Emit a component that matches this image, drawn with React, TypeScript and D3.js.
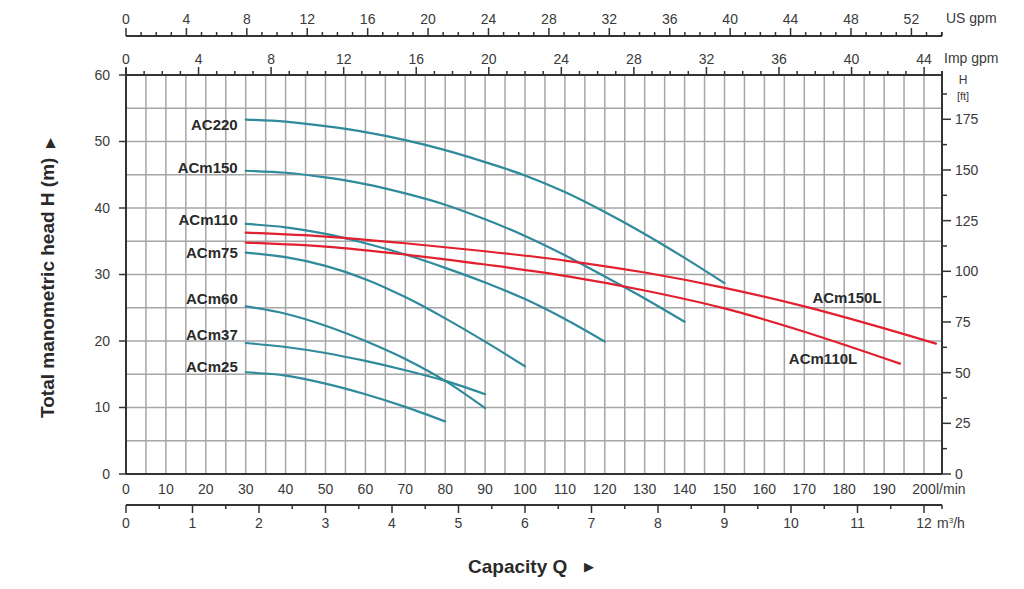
import React from "react";
import * as d3 from "d3";

// ---- data ----
const LMIN_TICKS = d3.range(0, 201, 10);
const M3H_LABELS = d3.range(0, 13, 1);
const M3H_MINOR = d3.range(0.5, 12.5, 1);
const IMP_LABELS = d3.range(0, 45, 4);
const IMP_TICKS = d3.range(0, 46, 1);
const US_LABELS = d3.range(0, 53, 4);
const US_TICKS = d3.range(0, 55, 1);
const HM_LABELS = d3.range(0, 61, 10);
const HFT_LABELS = d3.range(0, 176, 25);
const HFT_MINOR = d3.range(12.5, 190, 25);

const AC220: [number, number][] = [[30,53.3],[40,53.0],[50,52.3],[60,51.4],[70,50.2],[80,48.7],[90,46.9],[100,44.9],[110,42.4],[120,39.4],[130,36.1],[140,32.5],[150,28.7]];
const ACM150: [number, number][] = [[30,45.6],[40,45.3],[50,44.6],[60,43.6],[70,42.2],[80,40.5],[90,38.3],[100,35.8],[110,32.9],[120,29.7],[130,26.4],[140,22.9]];
const ACM110: [number, number][] = [[30,37.6],[40,37.1],[50,36.1],[60,34.7],[70,33.0],[80,31.0],[90,28.8],[100,26.3],[110,23.3],[120,19.9]];
const ACM75: [number, number][] = [[30,33.3],[40,32.6],[50,31.3],[60,29.3],[70,26.6],[80,23.4],[90,19.9],[100,16.2]];
const ACM60: [number, number][] = [[30,25.2],[40,24.1],[50,22.3],[60,20.0],[70,17.3],[80,14.0],[90,9.9]];
const ACM37: [number, number][] = [[30,19.7],[40,19.1],[50,18.2],[60,17.0],[70,15.6],[80,14.0],[90,12.0]];
const ACM25: [number, number][] = [[30,15.3],[40,14.8],[50,13.6],[60,12.0],[70,10.1],[80,7.9]];
const ACM150L: [number, number][] = [[30,36.3],[50,35.7],[70,34.7],[90,33.5],[110,32.1],[130,30.3],[150,28.0],[170,25.2],[190,21.9],[203,19.6]];
const ACM110L: [number, number][] = [[30,34.8],[50,34.2],[70,33.0],[90,31.5],[110,29.8],[130,27.6],[150,24.9],[170,21.4],[194,16.6]];

const SERIES_NAMES = ["AC220","ACm150","ACm110","ACm75","ACm60","ACm37","ACm25","ACm150L","ACm110L"];
const SERIES_DATA = [AC220, ACM150, ACM110, ACM75, ACM60, ACM37, ACM25, ACM150L, ACM110L];
const SERIES_RED = [false,false,false,false,false,false,false,true,true];
// label anchor (l/min, m) and text-anchor
const LABEL_Q = [28, 28, 28, 28, 28, 28, 28, 180.7, 174.7];
const LABEL_H = [52.5, 46.0, 38.2, 33.2, 26.3, 20.9, 16.1, 26.5, 17.4];
const LABEL_ANCHOR = ["end","end","end","end","end","end","end","middle","middle"];

const L_PER_IMP = 4.54609;
const L_PER_US = 3.78541;
const L_PER_M3H = 1000 / 60;
const M_PER_FT = 0.3048;

export default function App() {
  const x = d3.scaleLinear().domain([0, 200]).range([126, 924]);
  const y = d3.scaleLinear().domain([0, 60]).range([474, 75]);
  const xMax = x.invert(942);
  const left = x(0), right = x(xMax), top = y(60), bottom = y(0);
  const usY = 36;
  const m3Y = 505;
  const font = "'Liberation Sans', Arial, sans-serif";
  const axisCol = "#333";
  const txtCol = "#3a3a3a";
  const teal = "#2f8a9b";
  const red = "#e2202f";
  const fs = 14;
  const line = d3.line<[number, number]>().x(d => x(d[0])).y(d => y(d[1])).curve(d3.curveCatmullRom.alpha(0.5));

  const vGrid = d3.range(5, xMax, 5);
  const hGrid = d3.range(5, 60, 5);

  return (
    <svg width={1024} height={589} style={{ position: "absolute", left: 0, top: 0, background: "#fff" }} fontFamily={font}>
      {/* grid */}
      {vGrid.map(v => (
        <line key={"vg" + v} x1={x(v)} x2={x(v)} y1={top} y2={bottom} stroke="#a6a6a6" strokeWidth={1.5} />
      ))}
      {hGrid.map(v => (
        <line key={"hg" + v} x1={left} x2={right} y1={y(v)} y2={y(v)} stroke="#a6a6a6" strokeWidth={1.5} />
      ))}

      {/* frame */}
      <line x1={left} x2={left} y1={top - 7} y2={bottom} stroke={axisCol} strokeWidth={2} />
      <line x1={right} x2={right} y1={top - 4} y2={bottom} stroke={axisCol} strokeWidth={2} />
      <line x1={left} x2={right} y1={top} y2={top} stroke={axisCol} strokeWidth={2} />
      <line x1={left} x2={right} y1={bottom} y2={bottom} stroke={axisCol} strokeWidth={2} />

      {/* left axis */}
      {HM_LABELS.map(v => (
        <g key={"hm" + v}>
          <line x1={left - 7} x2={left} y1={y(v)} y2={y(v)} stroke={axisCol} strokeWidth={1.5} />
          <text x={110} y={y(v)} dy="0.35em" textAnchor="end" fontSize={fs} fill={txtCol}>{v}</text>
        </g>
      ))}

      {/* right axis (ft) */}
      {HFT_LABELS.map(v => (
        <g key={"hf" + v}>
          <line x1={right} x2={right + 9} y1={y(v * M_PER_FT)} y2={y(v * M_PER_FT)} stroke={axisCol} strokeWidth={1.5} />
          <text x={955} y={y(v * M_PER_FT)} dy="0.35em" fontSize={fs} fill={txtCol}>{v}</text>
        </g>
      ))}
      {HFT_MINOR.map(v => (
        <line key={"hfm" + v} x1={right} x2={right + 5} y1={y(v * M_PER_FT)} y2={y(v * M_PER_FT)} stroke={axisCol} strokeWidth={1.5} />
      ))}
      <text x={963} y={80} dy="0.35em" textAnchor="middle" fontSize={12} fill={txtCol}>H</text>
      <text x={963} y={96} dy="0.35em" textAnchor="middle" fontSize={11} fill={txtCol}>[ft]</text>

      {/* bottom l/min labels */}
      {LMIN_TICKS.map(v => (
        <text key={"lm" + v} x={x(v)} y={489} dy="0.35em" textAnchor="middle" fontSize={fs} fill={txtCol}>{v}</text>
      ))}
      <text x={936} y={489} dy="0.35em" fontSize={fs} fill={txtCol}>l/min</text>

      {/* m3/h axis */}
      <line x1={left} x2={right} y1={m3Y} y2={m3Y} stroke={axisCol} strokeWidth={2} />
      <line x1={right} x2={right} y1={m3Y} y2={m3Y + 4} stroke={axisCol} strokeWidth={1.5} />
      {M3H_LABELS.map(v => (
        <g key={"m3" + v}>
          <line x1={x(v * L_PER_M3H)} x2={x(v * L_PER_M3H)} y1={m3Y} y2={m3Y + 8} stroke={axisCol} strokeWidth={1.5} />
          <text x={x(v * L_PER_M3H)} y={523} dy="0.35em" textAnchor="middle" fontSize={fs} fill={txtCol}>{v}</text>
        </g>
      ))}
      {M3H_MINOR.map(v => (
        <line key={"m3m" + v} x1={x(v * L_PER_M3H)} x2={x(v * L_PER_M3H)} y1={m3Y} y2={m3Y + 4} stroke={axisCol} strokeWidth={1.5} />
      ))}
      <text x={937} y={523} dy="0.35em" fontSize={fs} fill={txtCol}>m<tspan fontSize={8} dy="-5">3</tspan><tspan dy="5">/h</tspan></text>

      {/* Imp gpm axis (top of plot) */}
      {IMP_TICKS.map(v => (
        <line key={"imp" + v} x1={x(v * L_PER_IMP)} x2={x(v * L_PER_IMP)} y1={top} y2={top - (v % 4 === 0 ? 8 : 4)} stroke={axisCol} strokeWidth={1.5} />
      ))}
      {IMP_LABELS.map(v => (
        <text key={"impl" + v} x={x(v * L_PER_IMP)} y={59} dy="0.35em" textAnchor="middle" fontSize={fs} fill={txtCol}>{v}</text>
      ))}
      <text x={944} y={58} dy="0.35em" fontSize={fs} fill={txtCol}>Imp gpm</text>

      {/* US gpm axis */}
      <line x1={left} x2={right} y1={usY} y2={usY} stroke={axisCol} strokeWidth={2} />
      {US_TICKS.map(v => (
        <line key={"us" + v} x1={x(v * L_PER_US)} x2={x(v * L_PER_US)} y1={usY} y2={usY - (v % 4 === 0 ? 8 : 4)} stroke={axisCol} strokeWidth={1.5} />
      ))}
      <line x1={right} x2={right} y1={usY} y2={usY - 4} stroke={axisCol} strokeWidth={1.5} />
      {US_LABELS.map(v => (
        <text key={"usl" + v} x={x(v * L_PER_US)} y={19} dy="0.35em" textAnchor="middle" fontSize={fs} fill={txtCol}>{v}</text>
      ))}
      <text x={946} y={18} dy="0.35em" fontSize={fs} fill={txtCol}>US gpm</text>

      {/* curves */}
      {SERIES_DATA.map((d, i) => (
        <path key={"c" + i} d={line(d) || ""} fill="none" stroke={SERIES_RED[i] ? red : teal} strokeWidth={2.2} strokeLinecap="round" />
      ))}
      {SERIES_NAMES.map((n, i) => (
        <text key={"lbl" + i} x={x(LABEL_Q[i])} y={y(LABEL_H[i])} dy="0.35em" textAnchor={LABEL_ANCHOR[i]} fontSize={15} fontWeight="bold" fill="#2a2a2a">{n}</text>
      ))}

      {/* titles */}
      <text transform="translate(54,418) rotate(-90)" fontSize={19} fontWeight="bold" fill="#2a2a2a">Total manometric head H (m)</text>
      <text transform="translate(54,148) rotate(-90)" fontSize={13} fill="#2a2a2a" fontFamily="'DejaVu Sans', sans-serif">▶</text>
      <text x={468} y={573} fontSize={19} fontWeight="bold" fill="#2a2a2a">Capacity Q</text>
      <text x={584} y={571} fontSize={13} fill="#2a2a2a" fontFamily="'DejaVu Sans', sans-serif">▶</text>
    </svg>
  );
}
